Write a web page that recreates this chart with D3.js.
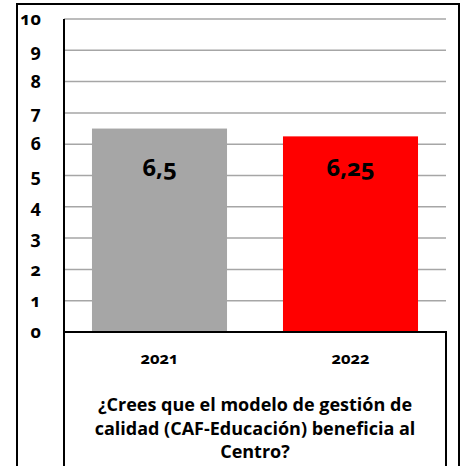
<!DOCTYPE html>
<html>
<head>
<meta charset="utf-8">
<script src="https://cdn.jsdelivr.net/npm/d3@7"></script>
<style>
  body { margin: 0; background: #fff; }
  svg { display: block; font-family: "Open Sans", "Noto Sans", sans-serif; font-weight: bold; }
  .num { font-variant-numeric: oldstyle-nums; font-feature-settings: "onum" 1; }
</style>
</head>
<body>
<div class="chart"></div>
<script>
const width = 465;
const height = 466;
const margin = {top: 19, right: 19, bottom: 134, left: 64};

const years = ['2021', '2022'];
const values = [6.5, 6.25];
const valueLabels = ['6,5', '6,25'];
const barColors = ['#a6a6a6', '#ff0000'];
const yTicks = [0, 1, 2, 3, 4, 5, 6, 7, 8, 9, 10];
const titleLines = ['¿Crees que el modelo de gestión de', 'calidad (CAF-Educación) beneficia al', 'Centro?'];

const svg = d3.select('.chart')
  .append('svg')
  .attr('width', width)
  .attr('height', height);

const x = d3.scaleBand()
  .domain(years)
  .range([margin.left, width - margin.right])
  .paddingInner(0.293)
  .paddingOuter(0.1465);

const y = d3.scaleLinear()
  .domain([0, 10])
  .range([height - margin.bottom, margin.top]);

// outer frame (bottom runs off the picture)
svg.append('path')
  .attr('d', `M17,${height + 5}V4H459V${height + 5}`)
  .attr('fill', 'none')
  .attr('stroke', '#000')
  .attr('stroke-width', 2);

// gridlines
svg.append('g')
  .selectAll('line')
  .data(yTicks.filter(d => d > 0))
  .join('line')
  .attr('x1', margin.left)
  .attr('x2', width - margin.right)
  .attr('y1', d => y(d))
  .attr('y2', d => y(d))
  .attr('stroke', '#a6a6a6')
  .attr('stroke-width', 1.5);

// bars
svg.append('g')
  .selectAll('rect')
  .data(values)
  .join('rect')
  .attr('x', (d, i) => x(years[i]))
  .attr('y', d => y(d))
  .attr('width', x.bandwidth())
  .attr('height', d => y(0) - y(d))
  .attr('fill', (d, i) => barColors[i]);

// value labels
svg.append('g')
  .selectAll('text')
  .data(values)
  .join('text')
  .attr('class', 'num')
  .attr('x', (d, i) => x(years[i]) + x.bandwidth() / 2)
  .attr('y', 167)
  .attr('dy', '0.36em')
  .attr('text-anchor', 'middle')
  .attr('font-size', 24)
  .text((d, i) => valueLabels[i]);

// y axis
const yAxis = d3.axisLeft(y)
  .tickValues(yTicks)
  .tickSize(0)
  .tickPadding(23);

svg.append('g')
  .attr('transform', `translate(${margin.left},0)`)
  .call(yAxis)
  .call(g => g.select('.domain').remove())
  .call(g => g.selectAll('text')
    .attr('class', 'num')
    .attr('font-family', '"Open Sans", "Noto Sans", sans-serif')
    .attr('font-size', 18)
    .attr('font-weight', 'bold')
    .attr('fill', '#000'));

svg.append('line')
  .attr('x1', margin.left)
  .attr('x2', margin.left)
  .attr('y1', y(10))
  .attr('y2', height + 5)
  .attr('stroke', '#000')
  .attr('stroke-width', 2);

// category table box
svg.append('path')
  .attr('d', `M${margin.left},${y(0)}H${width - margin.right}V${height + 5}`)
  .attr('fill', 'none')
  .attr('stroke', '#000')
  .attr('stroke-width', 2);

// x axis labels
svg.append('g')
  .selectAll('text')
  .data(years)
  .join('text')
  .attr('class', 'num')
  .attr('x', d => x(d) + x.bandwidth() / 2)
  .attr('y', 358)
  .attr('dy', '0.36em')
  .attr('text-anchor', 'middle')
  .attr('font-size', 16.5)
  .text(d => d);

// axis title
svg.append('g')
  .selectAll('text')
  .data(titleLines)
  .join('text')
  .attr('x', (margin.left + width - margin.right) / 2)
  .attr('y', (d, i) => 405 + i * 23.5)
  .attr('dy', '0.36em')
  .attr('text-anchor', 'middle')
  .attr('font-size', 18)
  .text(d => d);
</script>
</body>
</html>
